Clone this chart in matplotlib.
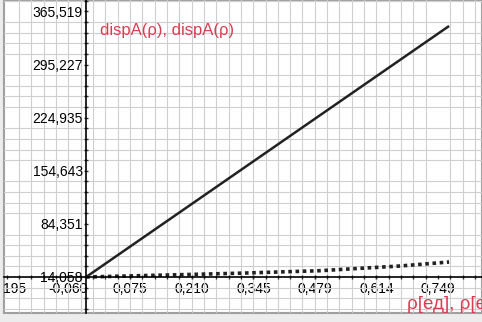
import numpy as np
import matplotlib
matplotlib.use("Agg")
import matplotlib.pyplot as plt

# values (in the plot's own label units)
rho_1 = [-0.021, 0.773]
dispA_1 = [14.06, 346.3]
rho_2 = [-0.021, 0.140, 0.316, 0.491, 0.666, 0.773]
dispA_2 = [14.06, 16.44, 19.09, 22.40, 28.62, 33.9]

x_ticks = [-0.195, -0.060, 0.075, 0.210, 0.345, 0.479, 0.614, 0.749]
x_labels = ["-0,195", "-0,060", "0,075", "0,210", "0,345", "0,479", "0,614", "0,749"]
y_ticks = [14.058, 84.351, 154.643, 224.935, 295.227, 365.519]
y_labels = ["14,058", "84,351", "154,643", "224,935", "295,227", "365,519"]

red = "#dc3c52"
plt.rcParams["font.family"] = ["Liberation Sans", "DejaVu Sans"]

fig = plt.figure(figsize=(4.82, 3.22), dpi=100, facecolor="#ececec")
ax = fig.add_axes([4 / 482, 1 - 313 / 322, 478 / 482, 313 / 322])
ax.set_facecolor("white")

# fine grid
xstep = (x_ticks[-1] - x_ticks[0]) / 7 / 5
ystep = (y_ticks[-1] - y_ticks[0]) / 5 / 5
ax.set_xticks(np.arange(x_ticks[0] - 5 * xstep, 0.9, xstep), minor=True)
ax.set_yticks(np.arange(y_ticks[0] - 5 * ystep, 400, ystep), minor=True)
ax.set_xticks(x_ticks)
ax.set_xticklabels(x_labels, fontsize=6.3, color="#333333")
ax.set_yticks(y_ticks)
ax.set_yticklabels(y_labels, fontsize=6.5, color="#333333", va="baseline")
ax.grid(which="minor", color="#cfcfcf", linewidth=0.8)
ax.set_axisbelow(True)

ax.set_xlim(-0.2007, 0.845)
ax.set_ylim(-33.6, 380.7)

ax.tick_params(which="both", direction="inout", length=3, width=1, color="#333333", pad=2)
ax.tick_params(axis="y", pad=1)

for side in ["top", "right"]:
    ax.spines[side].set_visible(False)
ax.spines["left"].set_position(("data", rho_1[0]))
ax.spines["bottom"].set_position(("data", dispA_1[0]))
ax.spines["left"].set_linewidth(1.2)
ax.spines["bottom"].set_linewidth(1.2)
ax.patch.set_edgecolor("#a0a0a0")
ax.patch.set_linewidth(1.5)

ax.plot(rho_1, dispA_1, color="#222222", linewidth=1.8, solid_capstyle="butt")
ax.plot(rho_2, dispA_2, color="#222222", linewidth=2.6, linestyle=(0, (1, 1)))

ax.text(96 / 478, 1 - 35 / 313, "dispA(ρ), dispA(ρ)", transform=ax.transAxes,
        color=red, fontsize=12, va="baseline")
ax.text(403 / 478, 4 / 313, "ρ[ед], ρ[ед]", transform=ax.transAxes,
        color=red, fontsize=13.5, ha="left", va="baseline")

fig.canvas.draw()
for lbl in ax.get_xticklabels() + ax.get_yticklabels():
    lbl.set_clip_box(ax.bbox)
    lbl.set_clip_on(True)

fig.savefig("out.png", dpi=100, facecolor=fig.get_facecolor())
